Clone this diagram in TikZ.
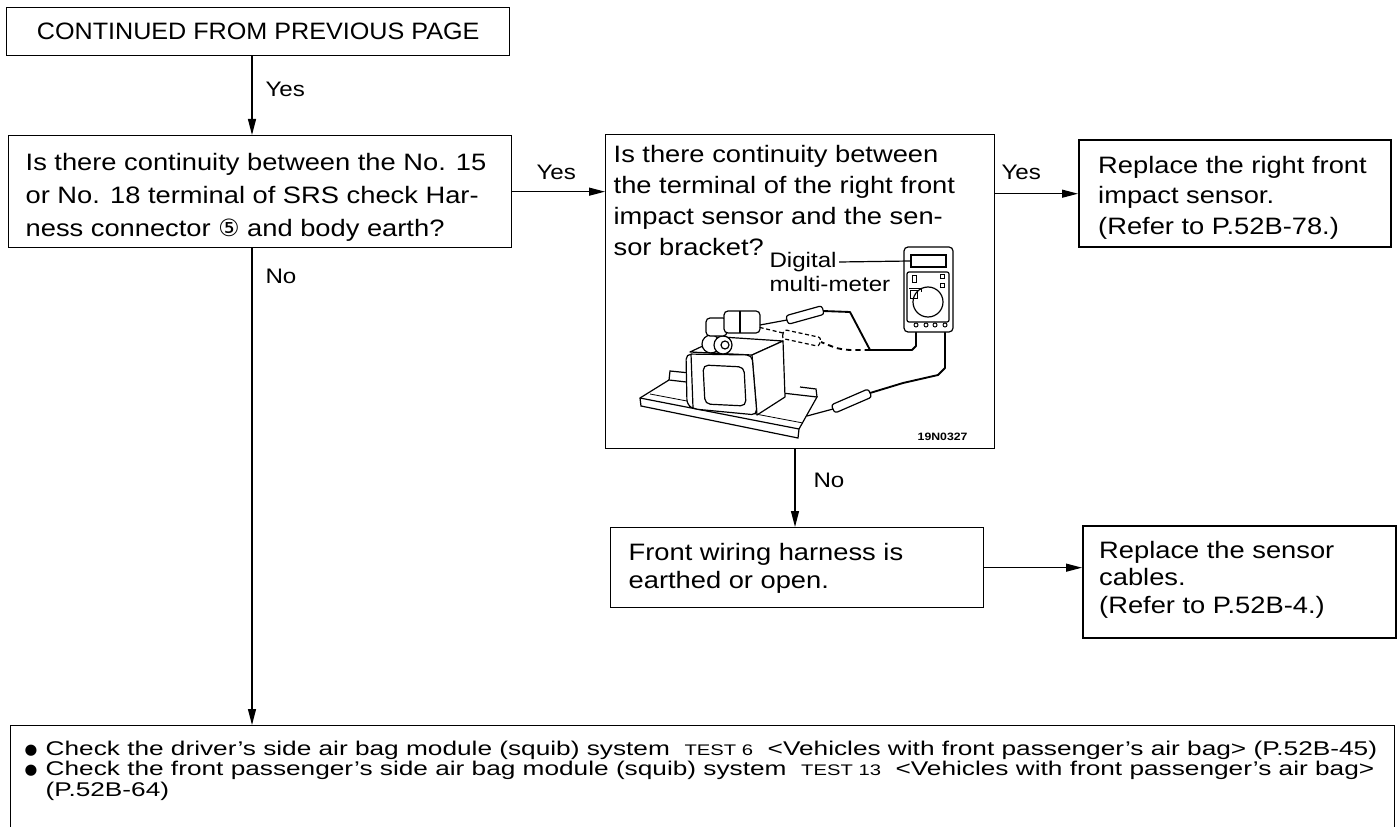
\documentclass[tikz,border=0pt]{standalone}
\usepackage{fontspec}
\setmainfont{Liberation Sans}[FakeStretch=1.15]
\newfontfamily\capsfont{Liberation Sans}[FakeStretch=1.06]
\newfontfamily\notefont{Liberation Sans}[FakeStretch=1.32]
\newfontfamily\symfont{DejaVu Sans}
\usetikzlibrary{arrows.meta}

\tikzset{every picture/.style={line width=0.75pt}}
\tikzset{
  box/.style={draw, line width=1pt, anchor=north west, inner sep=0pt},
  endbox/.style={box, line width=1.8pt},
  tag/.style={anchor=base west, inner sep=0.75pt, font=\fontsize{15.75}{18}\selectfont},
  flow/.style={line width=0.9pt, -{Triangle[length=12pt,width=6pt]}},
  lead/.style={line width=1.4pt},
  part/.style={line width=0.9pt, fill=white},
}
\newcommand{\txtbox}[3]{\parbox[c][#1][t]{#2}{\raggedright #3}}
\newcommand{\blt}{\makebox[15.75pt][l]{\raisebox{0.6pt}{\symfont\fontsize{11}{11}\selectfont ●}}}
\newcommand{\testno}[1]{{\fontsize{11.5}{12}\selectfont TEST #1}}

\begin{document}
\begin{tikzpicture}[x=0.75pt,y=0.75pt,yscale=-1,xscale=1]
\useasboundingbox (0,0) rectangle (1398,827);
\clip (0,0) rectangle (1398,827);

% columns of the vertical connectors
\coordinate (colL) at (252,0);
\coordinate (colM) at (795,0);

% Boxes
\node[box, minimum width=377.25pt, minimum height=36pt, font=\capsfont\fontsize{17.8}{20}\selectfont] (start) at (6,7) {CONTINUED FROM PREVIOUS PAGE};

\node[box, inner xsep=12.75pt, inner ysep=13.5pt, font=\fontsize{17.8}{24.75}\selectfont] (q1) at (8,135)
  {\txtbox{57pt}{351.75pt}{Is there continuity between the No. 15\\or No. 18 terminal of SRS check Har-\\ness connector {\symfont ⑤} and body earth?}};

\node[box, inner xsep=6pt, inner ysep=8.25pt, font=\fontsize{17.8}{23.25}\selectfont] (q2) at (605,134)
  {\txtbox{219pt}{279.75pt}{Is there continuity between\\the terminal of the right front\\impact sensor and the sen-\\sor bracket?}};

\node[endbox, inner xsep=14.25pt, inner ysep=12pt, font=\fontsize{17.8}{22.9}\selectfont] (r1) at (1078,139)
  {\txtbox{56.25pt}{205.5pt}{Replace the right front\\impact sensor.\\(Refer to P.52B-78.)}};

\node[box, inner xsep=13.5pt, inner ysep=12pt, font=\fontsize{17.8}{21}\selectfont] (harn) at (610,527)
  {\txtbox{36pt}{252.75pt}{Front wiring harness is\\earthed or open.}};

\node[endbox, inner xsep=12pt, inner ysep=11.25pt, font=\fontsize{17.8}{20.6}\selectfont] (sens) at (1082,525)
  {\txtbox{61.5pt}{210.75pt}{Replace the sensor\\cables.\\(Refer to P.52B-4.)}};

\node[box, inner xsep=10.5pt, inner ysep=11.25pt, font=\notefont\fontsize{14.9}{15.4}\selectfont] (chk) at (10,725)
  {\txtbox{67.5pt}{1017pt}{\blt Check the driver’s side air bag module (squib) system\ \ \testno{6}\ \ <Vehicles with front passenger’s air bag> (P.52B-45)\\
  \blt Check the front passenger’s side air bag module (squib) system\ \ \testno{13}\ \ <Vehicles with front passenger’s air bag>\\
  \hspace*{15.75pt}(P.52B-64)}};

% Connectors
\draw[flow] (start.south -| colL) -- (q1.north -| colL);
\draw[flow] (q1.east) -- (q2.west |- q1.east);
\draw[flow] (q2.east |- r1.west) -- (r1.west);
\draw[flow] (q2.south -| colM) -- (harn.north -| colM);
\draw[flow] (harn.east) -- (sens.west |- harn.east);
\draw[flow] (q1.south -| colL) -- (chk.north -| colL);

% Text Node
\node[tag] (yes1) at (264,97) {Yes};
\node[tag] (no1) at (264,283) {No};
\node[tag] (yes2) at (535,180) {Yes};
\node[tag] (yes3) at (1000,180) {Yes};
\node[tag] (no2) at (812,487) {No};

% Bracket
\draw[part] (640,398) -- (669,380) -- (817,397) -- (799,429) -- (798,438) -- (641,406) -- cycle;
\draw[line width=0.9pt] (640,398) -- (799,429);
\draw[line width=0.6pt] (650,394) -- (803,423);
\draw[line width=0.9pt] (669,380) -- (670,371) -- (690,373);
\draw[line width=0.9pt] (800,387) -- (816,389) -- (817,397);

% Sensor body
\draw[part, line join=round] (690,352) -- (752,355) -- (783,341) -- (722,337) -- cycle;
\draw[part, line join=round] (752,355) -- (783,341) -- (785,397) -- (757,415) -- cycle;
\draw[part, rounded corners=4] (686,354) -- (752,355) -- (757,415) -- (694,409) -- (687,405) -- cycle;
\draw[line width=0.9pt] (691,354) -- (693,408);
\draw[line width=0.9pt, rounded corners=4] (703,365) -- (744,367) -- (746,406) -- (705,404) -- cycle;

% Knob and connector
\draw[part] (711,344) circle (9);
\draw[line width=0.9pt] (711,335) -- (723,336) (711,353) -- (723,354);
\draw[part] (723,345) circle (9);
\draw[line width=0.9pt] (725,345) circle (4);
\draw[part, rounded corners=3] (706,318) rectangle (727,336);
\draw[part, rounded corners=3] (724,311) rectangle (760,333);
\draw[line width=0.9pt] (740,311) -- (740,333);

% Leads and probes
\draw[lead, line join=round] (916,327) -- (916,346) -- (912,350) -- (870,350) -- (850,312) -- (823,311);
\draw[part, rounded corners=2] (824.2,314.3) -- (821.8,305.7) -- (785.8,315.7) -- (788.2,324.3) -- cycle;
\draw[line width=0.9pt] (787,320) -- (760,325);
\draw[lead, dash pattern={on 4pt off 3pt}] (870,350) -- (850,350) .. controls (838,349) .. (821,342);
\draw[line width=0.9pt, dash pattern={on 3pt off 2pt}, rounded corners=2] (782,338.4) -- (784,329.6) -- (821,337.6) -- (819,346.4) -- cycle;
\draw[line width=0.9pt, dash pattern={on 3pt off 2pt}] (783,333) -- (758,327);
\draw[lead, line join=round] (945,327) -- (945,368) -- (938,375) -- (903,383) -- (870,393);
\draw[part, rounded corners=2] (871.8,397.1) -- (868.2,388.9) -- (831.2,404.9) -- (834.8,413.1) -- cycle;
\draw[line width=0.9pt] (833,409) -- (807,416);

% Multi-meter
\draw[part, rounded corners=3] (904,247) rectangle (953,332);
\draw[line width=0.9pt] (911,255) rectangle (946,267);
\draw[line width=0.9pt, rounded corners=1.5] (907,272) rectangle (949,322);
\draw[line width=0.9pt] (928,302) circle (15);
\draw[line width=0.7pt] (940,274) rectangle (944,278) (940,283) rectangle (944,287) (912,275) rectangle (916,282);
\draw[line width=0.7pt] (910,290) rectangle (917,298);
\draw[line width=0.7pt] (909,288) -- (921,288) -- (921,292);
\foreach \tx in {916,926,935,945} {\draw[line width=0.7pt] (\tx,325) circle (2);}

% Text Node
\node[anchor=north west, inner sep=0pt, align=left, font=\fontsize{15.75}{18}\selectfont] (dmmlbl) at (769,252) {Digital\\multi-meter};
\draw[line width=0.9pt] (839,262) -- (910,261);
\node[anchor=base east, inner sep=0pt, font=\bfseries\fontsize{8}{8}\selectfont] (fig) at (968,440) {19N0327};
\end{tikzpicture}
\end{document}
